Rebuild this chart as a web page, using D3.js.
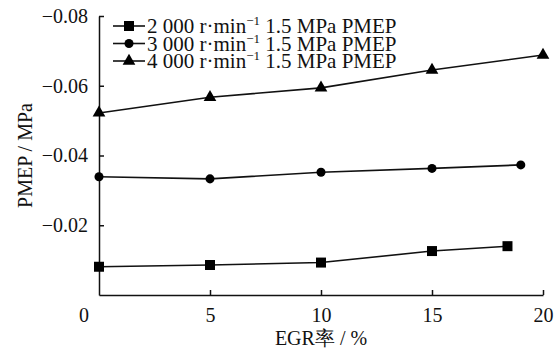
<!DOCTYPE html>
<html>
<head>
<meta charset="utf-8">
<script src="https://cdn.jsdelivr.net/npm/d3@7"></script>
<style>
  body { margin: 0; background: #fff; }
  text { font-family: "Liberation Serif", "Times New Roman", serif; fill: #111; }
</style>
</head>
<body>
<div id="chart"></div>
<script>
// data
var egr2000 = [0, 5, 10, 15, 18.4],
    pmep2000 = [-0.0081, -0.0086, -0.0093, -0.0126, -0.0140];
var egr3000 = [0, 5, 10, 15, 19],
    pmep3000 = [-0.0339, -0.0333, -0.0352, -0.0363, -0.0373];
var egr4000 = [0, 5, 10, 15, 20],
    pmep4000 = [-0.0522, -0.0567, -0.0594, -0.0645, -0.0688];
var xTicks = [5, 10, 15, 20];
var yTicks = [-0.08, -0.06, -0.04, -0.02];
var seriesNames = ["2 000", "3 000", "4 000"];

var width = 557, height = 354;

var svg = d3.select("#chart")
    .append("svg")
    .attr("width", width)
    .attr("height", height);

var x = d3.scaleLinear().domain([0, 20]).range([99, 543]);
var y = d3.scaleLinear().domain([0, -0.08]).range([295, 16]);

// x axis, ticks pointing inward
svg.append("g")
    .attr("transform", "translate(0," + y(0) + ")")
    .call(d3.axisBottom(x).tickValues(xTicks).tickSizeInner(-5).tickSizeOuter(0).tickPadding(13).tickFormat(d3.format("d")));

svg.append("g")
    .attr("transform", "translate(" + x(0) + ",0)")
    .call(d3.axisLeft(y).tickValues(yTicks).tickSizeInner(-5).tickSizeOuter(0).tickPadding(11).tickFormat(d3.format(".2f")));

svg.selectAll(".domain, .tick line")
    .attr("stroke", "#111")
    .attr("stroke-width", 1.5);

svg.selectAll(".tick text")
    .style("font-size", "20px")
    .style("font-family", "Liberation Serif, Times New Roman, serif")
    .attr("fill", "#111");

// shared origin label
svg.append("text")
    .attr("x", 84)
    .attr("y", y(0) + 13)
    .attr("dy", "0.71em")
    .attr("text-anchor", "middle")
    .style("font-size", "20px")
    .text("0");

// axis titles
svg.append("text")
    .attr("x", 321)
    .attr("y", 345)
    .attr("text-anchor", "middle")
    .style("font-size", "20px")
    .text("EGR率 / %");

svg.append("text")
    .attr("transform", "translate(32," + (y(-0.04)) + ") rotate(-90)")
    .attr("text-anchor", "middle")
    .style("font-size", "20px")
    .text("PMEP / MPa");

var series = [
    { name: seriesNames[0], xs: egr2000, ys: pmep2000, shape: d3.symbolSquare, size: 100 },
    { name: seriesNames[1], xs: egr3000, ys: pmep3000, shape: d3.symbolCircle, size: 64 },
    { name: seriesNames[2], xs: egr4000, ys: pmep4000, shape: d3.symbolTriangle, size: 70 }
];

var line = d3.line()
    .x(d => x(d[0]))
    .y(d => y(d[1]));

series.forEach(function(s) {
    var pts = d3.zip(s.xs, s.ys);
    svg.append("path")
        .datum(pts)
        .attr("d", line)
        .attr("fill", "none")
        .attr("stroke", "#111")
        .attr("stroke-width", 1.6);

    svg.selectAll(null)
        .data(pts)
        .enter()
        .append("path")
        .attr("transform", d => "translate(" + x(d[0]) + "," + y(d[1]) + ")")
        .attr("d", d3.symbol().type(s.shape).size(s.size))
        .attr("fill", "#000");
});

// legend
var legend = svg.append("g")
    .attr("transform", "translate(113,26)");

var rows = legend.selectAll("g")
    .data(series)
    .enter()
    .append("g")
    .attr("transform", (d, i) => "translate(0," + (i * 17.5) + ")");

rows.append("line")
    .attr("x1", 0).attr("x2", 32)
    .attr("stroke", "#111")
    .attr("stroke-width", 1.6);

rows.append("path")
    .attr("transform", "translate(16,0)")
    .attr("d", d => d3.symbol().type(d.shape).size(d.size)())
    .attr("fill", "#000");

var label = rows.append("text")
    .attr("x", 34)
    .attr("dy", "0.34em")
    .style("font-size", "21px");

label.append("tspan").text(d => d.name + " r·min");
label.append("tspan").attr("dy", -8).style("font-size", "13px").text("−1");
label.append("tspan").attr("dy", 8).text(" 1.5 MPa PMEP");
</script>
</body>
</html>
